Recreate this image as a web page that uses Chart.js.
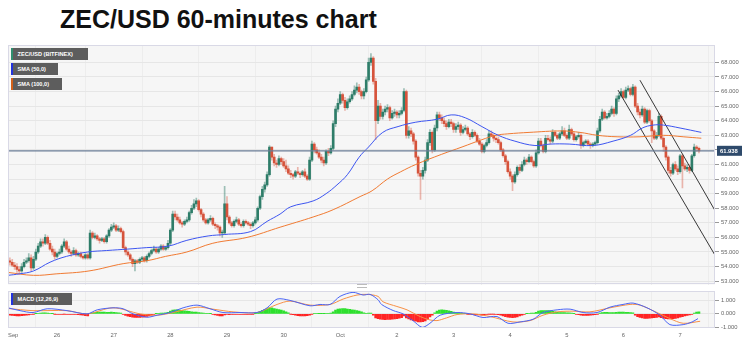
<!DOCTYPE html>
<html>
<head>
<meta charset="utf-8">
<title>ZEC/USD 60-minutes chart</title>
<script src="https://cdn.jsdelivr.net/npm/chart.js@4.4.1/dist/chart.umd.min.js"></script>
<style>
  body { margin: 0; background: #fff; width: 756px; height: 354px; position: relative; overflow: hidden; font-family: 'Liberation Sans', Arial, sans-serif; }
  #title { position: absolute; left: 60px; top: 7px; font-size: 25px; font-weight: bold; line-height: 25px; color: #111; white-space: nowrap; }
  canvas { position: absolute; left: 0; }
  #priceChart { top: 40px; }
  #macdChart { top: 286px; }
  .tag { position: absolute; left: 11px; height: 12px; line-height: 12px; box-sizing: border-box; background: #5d5d5d; color: #fff; font-size: 5.6px; font-weight: bold; padding-left: 4.5px; border-left: 2px solid; white-space: nowrap; }
  .handle { position: absolute; left: 357px; top: 284px; width: 10px; height: 2px; border-top: 1px solid #bbb; border-bottom: 1px solid #bbb; }
</style>
</head>
<body>
<div id="title">ZEC/USD 60-minutes chart</div>
<canvas id="priceChart" width="756" height="250"></canvas>
<canvas id="macdChart" width="756" height="68"></canvas>
<div class="tag" style="top:48px;width:77px;border-left-color:#2f8f6f">ZEC/USD (BITFINEX)</div>
<div class="tag" style="top:62.5px;width:47px;border-left-color:#2233dd">SMA (50,0)</div>
<div class="tag" style="top:77.5px;width:51px;border-left-color:#d2601a">SMA (100,0)</div>
<div class="tag" style="top:293px;width:61px;border-left-color:#2233dd">MACD (12,26,9)</div>
<div class="handle"></div>
<script>
// Hours are counted from Sep 26 00:00, one candle per hour
const firstHour = -20;
const xMin = -20.8;
const xMax = 278.8;

const dayTicks = [-18.6, 0, 24, 48, 72, 96, 120, 144, 168, 192, 216, 240, 264];
const dayLabels = ['Sep', '26', '27', '28', '29', '30', 'Oct', '2', '3', '4', '5', '6', '7'];
const priceTicks = [53, 54, 55, 56, 57, 58, 59, 60, 61, 62, 63, 64, 65, 66, 67, 68];
const macdTicks = [-1, 0, 1];
const lastPrice = 61.938;

const candleOpen = [
    54.4, 54.3, 54.1, 54.0, 53.8, 53.7, 54.0, 54.3, 54.4, 54.6,
    53.9, 54.5, 55.0, 55.4, 55.7, 55.6, 56.0, 55.6, 55.2, 55.0,
    54.7, 54.9, 55.0, 55.4, 55.7, 55.2, 55.0, 54.9, 55.1, 54.8,
    54.9, 54.7, 54.6, 54.8, 54.6, 56.3, 56.0, 56.1, 55.9, 55.8,
    55.9, 55.7, 56.1, 56.5, 56.7, 56.8, 56.5, 56.6, 56.4, 55.3,
    55.0, 54.8, 54.5, 54.2, 54.4, 54.3, 54.5, 54.6, 54.4, 54.7,
    54.9, 55.1, 55.2, 55.0, 55.2, 55.4, 55.2, 55.3, 55.6, 56.5,
    57.6, 57.4, 57.2, 57.0, 56.9, 57.1, 57.2, 57.7, 58.0, 58.3,
    58.5, 57.9, 57.6, 57.2, 57.0, 57.2, 57.3, 56.9, 56.8, 56.7,
    56.3, 56.3, 58.3, 57.4, 57.0, 56.8, 57.1, 57.2, 56.9, 56.8,
    57.1, 57.0, 56.9, 56.8, 57.0, 57.2, 58.0, 58.8, 59.3, 59.6,
    60.3, 62.2, 61.5, 61.1, 61.0, 61.4, 61.2, 60.9, 60.7, 60.4,
    60.3, 60.2, 60.5, 60.4, 60.3, 60.5, 60.2, 60.0, 61.3, 62.4,
    62.0, 61.8, 61.5, 61.3, 61.1, 61.9, 61.8, 62.1, 63.8, 64.8,
    65.2, 65.8, 65.4, 64.9, 65.3, 65.5, 65.8, 66.1, 66.3, 66.0,
    65.7, 66.0, 66.8, 68.0, 68.3, 66.7, 64.0, 65.0, 64.3, 64.6,
    64.8, 64.9, 64.2, 64.5, 64.6, 64.4, 64.5, 64.7, 66.0, 63.0,
    63.3, 63.1, 62.6, 61.5, 60.4, 60.2, 60.6, 61.3, 62.5, 63.2,
    62.0, 63.5, 64.4, 64.2, 64.0, 63.8, 63.6, 63.9, 63.8, 63.4,
    63.6, 63.7, 63.2, 63.4, 63.5, 63.1, 62.9, 63.2, 63.0, 62.6,
    62.4, 61.9, 62.3, 62.5, 63.1, 63.0, 62.8, 62.7, 62.5, 62.0,
    61.6, 61.2, 60.5, 60.2, 59.8, 60.3, 60.8, 60.6, 61.0, 61.3,
    61.2, 61.5, 61.2, 60.9, 61.8, 62.6, 62.3, 61.9, 62.8, 62.7,
    62.6, 63.2, 63.0, 62.8, 63.1, 63.3, 63.0, 62.8, 63.4, 63.1,
    62.7, 62.9, 63.0, 62.3, 62.5, 62.6, 62.4, 62.3, 62.4, 62.5,
    63.3, 64.1, 64.6, 64.2, 64.3, 64.5, 64.8, 64.5, 65.5, 65.7,
    66.0, 65.6, 66.1, 66.2, 65.8, 66.3, 65.0, 64.6, 64.4, 64.8,
    63.9, 64.7, 64.0, 63.3, 62.8, 63.0, 64.3, 62.8, 62.2, 61.5,
    60.6, 60.4, 61.0, 60.7, 60.5, 61.6, 60.9, 60.7, 60.8, 60.6,
    61.6, 62.2, 62.1
];
const candleHigh = [
    54.6, 54.5, 54.3, 54.2, 54.0, 54.2, 54.5, 54.6, 54.9, 54.8,
    54.7, 55.2, 55.6, 55.9, 55.9, 56.2, 56.1, 55.8, 55.4, 55.2,
    55.0, 55.2, 55.5, 55.9, 55.8, 55.4, 55.1, 55.3, 55.2, 55.0,
    55.0, 54.8, 54.9, 54.9, 56.5, 56.4, 56.3, 56.2, 56.0, 56.0,
    56.0, 56.2, 56.6, 56.9, 57.0, 56.9, 56.8, 56.7, 56.5, 55.4,
    55.1, 54.9, 54.6, 54.5, 54.5, 54.6, 54.7, 54.7, 54.8, 55.0,
    55.2, 55.4, 55.3, 55.3, 55.5, 55.5, 55.4, 55.8, 56.6, 57.8,
    57.8, 57.6, 57.4, 57.1, 57.2, 57.4, 57.8, 58.2, 58.6, 58.7,
    58.6, 58.0, 57.7, 57.3, 57.3, 57.5, 57.4, 57.0, 56.9, 56.8,
    56.5, 59.5, 58.8, 57.5, 57.1, 57.2, 57.4, 57.3, 57.0, 57.2,
    57.2, 57.1, 57.0, 57.1, 57.4, 58.1, 58.9, 59.5, 59.8, 60.5,
    62.3, 62.2, 61.7, 61.3, 61.6, 61.5, 61.4, 61.3, 60.9, 60.6,
    60.4, 60.6, 60.8, 60.5, 60.6, 60.7, 60.3, 61.5, 62.6, 62.5,
    62.2, 62.0, 61.7, 61.5, 62.0, 62.1, 62.3, 64.0, 65.0, 65.5,
    66.0, 65.9, 65.6, 65.5, 65.7, 66.0, 66.4, 66.6, 66.5, 66.1,
    66.2, 67.0, 68.3, 68.6, 68.4, 66.9, 65.4, 65.2, 64.8, 65.0,
    65.1, 65.0, 64.7, 64.8, 64.7, 64.7, 64.9, 66.2, 66.1, 63.6,
    63.5, 63.2, 62.7, 61.6, 60.6, 60.8, 61.5, 62.7, 63.4, 63.3,
    63.7, 64.6, 64.6, 64.4, 64.2, 64.0, 64.1, 64.1, 63.9, 63.8,
    63.9, 63.8, 63.6, 63.7, 63.6, 63.2, 63.4, 63.3, 63.1, 62.8,
    62.5, 62.4, 62.7, 63.3, 63.3, 63.1, 62.9, 62.9, 62.6, 62.1,
    61.7, 61.3, 60.7, 60.3, 60.5, 60.9, 61.0, 61.2, 61.5, 61.4,
    61.7, 61.6, 61.3, 62.0, 62.8, 62.8, 62.4, 63.0, 63.0, 62.9,
    63.4, 63.3, 63.1, 63.2, 63.6, 63.5, 63.1, 63.7, 63.5, 63.2,
    63.0, 63.2, 63.1, 62.6, 62.7, 62.7, 62.5, 62.5, 62.6, 63.5,
    64.3, 64.8, 64.7, 64.5, 64.7, 65.0, 64.9, 65.7, 65.9, 66.2,
    66.1, 66.3, 66.4, 66.3, 66.5, 66.4, 65.2, 64.8, 65.0, 64.9,
    64.8, 64.8, 64.1, 63.4, 63.2, 64.5, 64.4, 62.9, 62.3, 61.6,
    60.8, 61.1, 61.2, 60.9, 61.7, 61.7, 61.1, 61.0, 61.0, 61.7,
    62.4, 62.3, 62.2
];
const candleLow = [
    54.1, 54.0, 53.8, 53.6, 53.5, 53.6, 53.9, 54.2, 54.3, 53.7,
    53.8, 54.4, 54.9, 55.3, 55.4, 55.5, 55.5, 55.1, 54.8, 54.5,
    54.6, 54.8, 54.9, 55.3, 55.1, 54.9, 54.7, 54.8, 54.7, 54.7,
    54.6, 54.5, 54.5, 54.5, 54.5, 55.9, 55.9, 55.8, 55.6, 55.7,
    55.6, 55.6, 56.0, 56.4, 56.6, 56.4, 56.4, 56.3, 55.2, 54.8,
    54.7, 54.4, 54.0, 53.7, 54.2, 54.2, 54.4, 54.3, 54.3, 54.6,
    54.8, 55.0, 54.9, 54.9, 55.1, 55.1, 55.1, 55.2, 55.5, 56.4,
    57.2, 57.1, 56.9, 56.7, 56.8, 57.0, 57.1, 57.6, 57.9, 58.1,
    57.8, 57.4, 57.1, 56.9, 56.9, 57.1, 56.8, 56.6, 56.5, 56.1,
    56.0, 56.2, 57.2, 56.9, 56.7, 56.7, 57.0, 56.8, 56.7, 56.7,
    56.9, 56.8, 56.6, 56.7, 56.9, 57.1, 57.9, 58.6, 59.1, 59.5,
    60.2, 61.3, 60.9, 60.8, 60.9, 61.0, 60.8, 60.5, 60.3, 60.1,
    60.0, 60.1, 60.3, 60.1, 60.2, 60.1, 59.9, 59.9, 61.2, 61.8,
    61.7, 61.4, 61.1, 60.9, 61.0, 61.6, 61.7, 62.0, 63.6, 64.6,
    65.1, 65.2, 64.7, 64.8, 65.2, 65.4, 65.7, 65.9, 65.8, 65.5,
    65.5, 65.9, 66.7, 67.8, 66.5, 62.7, 63.8, 64.1, 64.1, 64.4,
    64.6, 64.0, 64.1, 64.3, 64.2, 64.2, 64.4, 64.6, 62.8, 62.8,
    62.9, 62.4, 61.3, 60.2, 58.6, 60.0, 60.4, 61.2, 62.3, 61.8,
    61.9, 63.3, 64.0, 63.8, 63.6, 63.4, 63.5, 63.6, 63.2, 63.2,
    63.4, 63.0, 63.1, 63.3, 63.0, 62.7, 62.8, 62.9, 62.5, 62.3,
    61.8, 61.8, 62.2, 62.4, 62.9, 62.6, 62.5, 62.4, 61.9, 61.5,
    61.0, 60.4, 60.0, 59.2, 59.7, 60.2, 60.4, 60.5, 60.9, 61.0,
    61.1, 61.1, 60.8, 60.8, 61.7, 62.2, 61.8, 61.8, 62.6, 62.4,
    62.5, 62.9, 62.7, 62.7, 63.0, 62.9, 62.7, 62.7, 63.0, 62.6,
    62.6, 62.8, 62.1, 62.2, 62.4, 62.3, 62.1, 62.2, 62.3, 62.4,
    63.2, 64.0, 64.1, 64.1, 64.2, 64.4, 64.3, 64.4, 65.3, 65.6,
    65.5, 65.5, 66.0, 65.7, 65.7, 64.9, 64.4, 64.2, 64.3, 63.8,
    63.8, 63.9, 62.5, 62.7, 62.7, 62.9, 62.7, 61.9, 61.3, 60.4,
    60.2, 60.3, 60.6, 60.3, 60.4, 59.4, 60.6, 60.5, 60.4, 60.5,
    61.5, 61.9, 61.8
];
const candleClose = [
    54.3, 54.1, 54.0, 53.8, 53.7, 54.0, 54.3, 54.4, 54.6, 53.9,
    54.5, 55.0, 55.4, 55.7, 55.6, 56.0, 55.6, 55.2, 55.0, 54.7,
    54.9, 55.0, 55.4, 55.7, 55.2, 55.0, 54.9, 55.1, 54.8, 54.9,
    54.7, 54.6, 54.8, 54.6, 56.3, 56.0, 56.1, 55.9, 55.8, 55.9,
    55.7, 56.1, 56.5, 56.7, 56.8, 56.5, 56.6, 56.4, 55.3, 55.0,
    54.8, 54.5, 54.2, 54.4, 54.3, 54.5, 54.6, 54.4, 54.7, 54.9,
    55.1, 55.2, 55.0, 55.2, 55.4, 55.2, 55.3, 55.6, 56.5, 57.6,
    57.4, 57.2, 57.0, 56.9, 57.1, 57.2, 57.7, 58.0, 58.3, 58.5,
    57.9, 57.6, 57.2, 57.0, 57.2, 57.3, 56.9, 56.8, 56.7, 56.3,
    56.3, 58.3, 57.4, 57.0, 56.8, 57.1, 57.2, 56.9, 56.8, 57.1,
    57.0, 56.9, 56.8, 57.0, 57.2, 58.0, 58.8, 59.3, 59.6, 60.3,
    62.2, 61.5, 61.1, 61.0, 61.4, 61.2, 60.9, 60.7, 60.4, 60.3,
    60.2, 60.5, 60.4, 60.3, 60.5, 60.2, 60.0, 61.3, 62.4, 62.0,
    61.8, 61.5, 61.3, 61.1, 61.9, 61.8, 62.1, 63.8, 64.8, 65.2,
    65.8, 65.4, 64.9, 65.3, 65.5, 65.8, 66.1, 66.3, 66.0, 65.7,
    66.0, 66.8, 68.0, 68.3, 66.7, 64.0, 65.0, 64.3, 64.6, 64.8,
    64.9, 64.2, 64.5, 64.6, 64.4, 64.5, 64.7, 66.0, 63.0, 63.3,
    63.1, 62.6, 61.5, 60.4, 60.2, 60.6, 61.3, 62.5, 63.2, 62.0,
    63.5, 64.4, 64.2, 64.0, 63.8, 63.6, 63.9, 63.8, 63.4, 63.6,
    63.7, 63.2, 63.4, 63.5, 63.1, 62.9, 63.2, 63.0, 62.6, 62.4,
    61.9, 62.3, 62.5, 63.1, 63.0, 62.8, 62.7, 62.5, 62.0, 61.6,
    61.2, 60.5, 60.2, 59.8, 60.3, 60.8, 60.6, 61.0, 61.3, 61.2,
    61.5, 61.2, 60.9, 61.8, 62.6, 62.3, 61.9, 62.8, 62.7, 62.6,
    63.2, 63.0, 62.8, 63.1, 63.3, 63.0, 62.8, 63.4, 63.1, 62.7,
    62.9, 63.0, 62.3, 62.5, 62.6, 62.4, 62.3, 62.4, 62.5, 63.3,
    64.1, 64.6, 64.2, 64.3, 64.5, 64.8, 64.5, 65.5, 65.7, 66.0,
    65.6, 66.1, 66.2, 65.8, 66.3, 65.0, 64.6, 64.4, 64.8, 63.9,
    64.7, 64.0, 63.3, 62.8, 63.0, 64.3, 62.8, 62.2, 61.5, 60.6,
    60.4, 61.0, 60.7, 60.5, 61.6, 60.9, 60.7, 60.8, 60.6, 61.6,
    62.2, 62.1, 61.938
];

// Moving averages, read at a few points along each line
const sma50Hours = [-20.8, -16, -10, -3, 4, 13, 21, 30, 38, 47, 55, 64, 71, 82, 89, 94.5, 99, 108.5, 114, 118.6, 123, 128, 132, 138, 144.5, 152, 161, 167, 173, 180, 187, 194, 202.5, 209, 217, 227, 235.6, 243, 248, 252.5, 257, 264, 273];
const sma50Values = [53.4, 53.5, 53.7, 54.3, 54.7, 55.0, 55.1, 55.2, 55.3, 55.4, 55.8, 56.1, 56.2, 56.4, 57.1, 57.6, 58.1, 58.5, 59.0, 59.6, 60.3, 61.5, 62.2, 63.2, 63.6, 63.9, 64.1, 64.4, 64.2, 63.6, 63.0, 62.6, 62.3, 62.4, 62.4, 62.3, 62.6, 63.0, 63.5, 63.7, 63.7, 63.5, 63.2];
const sma100Hours = [-20.8, -10, -0.4, 13.5, 28, 38, 46, 55, 66, 80.5, 94.5, 108.5, 117, 128.4, 133.5, 140, 145.6, 152, 163, 171.6, 180, 186, 191, 200, 214, 221.6, 229, 237.3, 247, 257, 265.3, 273];
const sma100Values = [53.6, 53.4, 53.5, 53.7, 54.2, 54.4, 54.7, 55.0, 55.6, 56.0, 56.7, 57.4, 57.9, 58.8, 59.2, 60.0, 60.5, 61.0, 61.7, 62.2, 62.7, 63.0, 63.1, 63.2, 63.3, 63.2, 63.0, 62.9, 62.9, 63.0, 62.9, 62.8];

// Descending channel drawn on the last days
const channelLowerHours = [237.7, 278.8];
const channelLowerValues = [66.1, 54.78];
const channelUpperHours = [247, 278.8];
const channelUpperValues = [66.78, 57.84];

// MACD (12,26,9)
const macdHours = [-20.8, -15.7, -10.2, -4.2, 4.2, 12.7, 17, 23.7, 28, 32.2, 38.1, 42.4, 47.9, 53.4, 59.3, 64.8, 70.3, 77.5, 84.7, 89, 93.2, 98.7, 107.2, 111.4, 115.7, 119.9, 125.4, 129.7, 132.6, 136, 137.5, 142.4, 146.6, 150.8, 154.7, 158, 162.3, 169.5, 175, 180.5, 186.4, 191.1, 196.2, 201.7, 205.9, 211.9, 217.4, 222.9, 228.8, 234.3, 239.8, 244.1, 250, 255.5, 259.7, 265.3, 269.1, 271.6];
const macdValues = [0.45, 0.24, 0.1, 0.38, 0.24, 0.0, 0.3, 0.45, 0.38, 0.0, -0.25, -0.1, 0.1, 0.45, 0.65, 0.38, 0.1, 0.1, 0.1, 0.45, 1.1, 1.0, 0.6, 0.7, 0.7, 1.3, 1.6, 1.4, 1.45, 1.05, 0.7, 0.25, 0.0, -0.5, -1.0, -0.7, -0.1, 0.1, 0.0, -0.27, -0.2, -0.7, -0.6, -0.4, 0.1, 0.3, 0.35, 0.1, 0.1, 0.5, 0.7, 0.8, 0.45, -0.1, -0.8, -0.8, -0.6, -0.35];
const signalHours = [-20.8, -10.2, 4.2, 12.7, 23.7, 35.2, 42.4, 49.2, 59.3, 66.1, 74.6, 84.7, 93.2, 98.7, 107.2, 115.7, 121.2, 127.1, 131.4, 136, 138.1, 144, 148.3, 153.8, 158, 161, 165, 169.5, 176.3, 183.5, 193.2, 200.4, 205.9, 211.9, 218.6, 225.8, 234.3, 242.8, 247, 254.2, 259.7, 265.3, 272.5];
const signalValues = [0.4, 0.24, 0.24, 0.0, 0.45, 0.0, -0.1, 0.1, 0.5, 0.35, 0.15, 0.1, 0.7, 0.95, 0.65, 0.7, 1.1, 1.4, 1.45, 1.3, 0.9, 0.55, 0.3, -0.2, -0.45, -0.5, -0.3, -0.05, 0.0, -0.2, -0.6, -0.5, -0.1, 0.15, 0.2, 0.15, 0.45, 0.7, 0.65, 0.1, -0.35, -0.7, -0.55];
const macdHist = [
    -0.10, -0.12, -0.14, -0.15, -0.15, -0.14, -0.12, -0.10, -0.08, -0.05,
    -0.02, 0.02, 0.04, 0.06, 0.08, 0.08, 0.06, 0.04, 0.02, -0.01,
    -0.03, -0.04, -0.03, -0.02, -0.03, -0.05, -0.05, -0.04, -0.05, -0.06,
    -0.07, -0.10, -0.13, -0.15, 0.02, 0.08, 0.11, 0.13, 0.14, 0.14,
    0.13, 0.12, 0.12, 0.13, 0.12, 0.10, 0.08, 0.05, -0.05, -0.12,
    -0.17, -0.21, -0.24, -0.26, -0.27, -0.26, -0.24, -0.22, -0.19, -0.15,
    -0.10, -0.05, 0.01, 0.03, 0.05, 0.06, 0.08, 0.12, 0.20, 0.28,
    0.30, 0.30, 0.28, 0.25, 0.22, 0.20, 0.18, 0.16, 0.14, 0.13,
    0.10, 0.07, 0.05, 0.04, 0.03, 0.01, -0.04, -0.08, -0.12, -0.15,
    -0.16, -0.08, -0.05, -0.06, -0.05, -0.04, -0.03, -0.03, -0.04, -0.03,
    -0.03, -0.03, -0.04, -0.02, 0.02, 0.10, 0.18, 0.26, 0.32, 0.38,
    0.45, 0.44, 0.40, 0.36, 0.32, 0.28, 0.22, 0.15, 0.08, -0.02,
    -0.06, -0.10, -0.13, -0.15, -0.16, -0.15, -0.14, -0.10, -0.02, 0.03,
    0.03, 0.02, 0.02, 0.01, 0.03, 0.04, 0.05, 0.15, 0.28, 0.35,
    0.38, 0.40, 0.39, 0.36, 0.33, 0.30, 0.28, 0.25, 0.20, 0.15,
    0.08, 0.04, 0.06, 0.05, -0.10, -0.30, -0.35, -0.40, -0.42, -0.43,
    -0.42, -0.41, -0.40, -0.38, -0.35, -0.32, -0.28, -0.15, -0.30, -0.38,
    -0.45, -0.50, -0.55, -0.60, -0.60, -0.58, -0.52, -0.40, -0.22, -0.10,
    0.08, 0.20, 0.28, 0.30, 0.29, 0.26, 0.22, 0.18, 0.13, 0.10,
    0.08, 0.05, 0.04, 0.03, -0.02, -0.05, -0.06, -0.07, -0.08, -0.08,
    -0.09, -0.08, -0.05, -0.02, -0.01, -0.02, -0.03, -0.06, -0.10, -0.15,
    -0.20, -0.24, -0.26, -0.28, -0.26, -0.22, -0.16, -0.10, -0.04, 0.02,
    0.04, 0.05, 0.06, 0.12, 0.20, 0.24, 0.25, 0.25, 0.24, 0.22,
    0.18, 0.15, 0.12, 0.10, 0.10, 0.09, 0.08, 0.07, 0.05, 0.02,
    -0.03, -0.06, -0.09, -0.11, -0.12, -0.11, -0.10, -0.08, -0.06, -0.02,
    0.05, 0.10, 0.12, 0.11, 0.10, 0.10, 0.09, 0.11, 0.13, 0.14,
    0.13, 0.12, 0.12, 0.10, 0.08, -0.10, -0.20, -0.27, -0.30, -0.33,
    -0.33, -0.32, -0.30, -0.28, -0.27, -0.22, -0.28, -0.32, -0.35, -0.37,
    -0.37, -0.35, -0.33, -0.30, -0.24, -0.20, -0.16, -0.12, -0.08, -0.04,
    0.06, 0.14, 0.15
];

// Colours
const upColor = '#2e7d69';
const downColor = '#d6533b';
const upWick = 'rgba(46, 125, 105, 0.45)';
const downWick = 'rgba(214, 83, 59, 0.4)';

Chart.defaults.font.family = "'Liberation Sans', Arial, sans-serif";
Chart.defaults.font.size = 5.8;
Chart.defaults.color = '#666';

const candleHours = candleClose.map((c, k) => firstHour + k);

function points(xs, ys) {
    return xs.map((x, k) => ({ x: x, y: ys[k] }));
}

function dayGridColor(ctx) {
    return ctx.tick && ctx.tick.value < 0 ? 'rgba(0,0,0,0)' : '#ededed';
}

// Grey panel behind the plot and a thin frame around it
const panelFrame = {
    id: 'panelFrame',
    beforeDraw(chart) {
        const a = chart.chartArea;
        const ctx = chart.ctx;
        ctx.save();
        ctx.fillStyle = '#f6f6f6';
        ctx.fillRect(a.left, a.top, a.right - a.left, a.bottom - a.top);
        ctx.restore();
    },
    afterDraw(chart) {
        const a = chart.chartArea;
        const ctx = chart.ctx;
        ctx.save();
        ctx.strokeStyle = '#d9d9e6';
        ctx.lineWidth = 1;
        ctx.strokeRect(Math.round(a.left) + 0.5, Math.round(a.top) + 0.5, Math.round(a.right - a.left) - 1, Math.round(a.bottom - a.top) - 1);
        ctx.restore();
    }
};

// Box with the last price on the right axis
const lastPriceLabel = {
    id: 'lastPriceLabel',
    afterDraw(chart) {
        const y = chart.scales.y.getPixelForValue(lastPrice);
        const x = chart.chartArea.right + 2;
        const ctx = chart.ctx;
        ctx.save();
        ctx.fillStyle = '#2e4a6b';
        ctx.fillRect(x, y - 5, 25, 10);
        ctx.fillStyle = '#fff';
        ctx.font = "bold 5.8px 'Liberation Sans', Arial, sans-serif";
        ctx.textBaseline = 'middle';
        ctx.fillText(lastPrice.toFixed(3), x + 3, y + 0.5);
        ctx.restore();
    }
};

const priceChart = new Chart(document.getElementById('priceChart'), {
    type: 'bar',
    data: {
        datasets: [
            {
                type: 'line',
                data: points([xMin, xMax], [lastPrice, lastPrice]),
                borderColor: '#6a7d96',
                borderWidth: 1.3,
                pointRadius: 0,
                order: 0
            },
            {
                type: 'line',
                data: points(sma50Hours, sma50Values),
                borderColor: '#3d55f0',
                borderWidth: 1,
                pointRadius: 0,
                tension: 0.4,
                order: 0
            },
            {
                type: 'line',
                data: points(sma100Hours, sma100Values),
                borderColor: '#f07a32',
                borderWidth: 1,
                pointRadius: 0,
                tension: 0.4,
                order: 0
            },
            {
                type: 'line',
                data: points(channelLowerHours, channelLowerValues),
                borderColor: '#222',
                borderWidth: 0.9,
                pointRadius: 0,
                order: 0
            },
            {
                type: 'line',
                data: points(channelUpperHours, channelUpperValues),
                borderColor: '#222',
                borderWidth: 0.9,
                pointRadius: 0,
                order: 0
            },
            {
                // candle bodies
                data: candleHours.map((h, k) => ({ x: h, y: [candleOpen[k], candleClose[k]] })),
                backgroundColor: candleClose.map((c, k) => c >= candleOpen[k] ? upColor : downColor),
                barThickness: 2,
                minBarLength: 1,
                grouped: false,
                order: 1
            },
            {
                // wicks
                data: candleHours.map((h, k) => ({ x: h, y: [candleLow[k], candleHigh[k]] })),
                backgroundColor: candleClose.map((c, k) => c >= candleOpen[k] ? upWick : downWick),
                barThickness: 1,
                grouped: false,
                order: 2
            }
        ]
    },
    options: {
        responsive: false,
        animation: false,
        events: [],
        layout: { padding: { left: 8, right: 0, top: 5, bottom: 4 } },
        plugins: { legend: { display: false }, tooltip: { enabled: false } },
        scales: {
            x: {
                type: 'linear',
                min: xMin,
                max: xMax,
                offset: false,
                afterBuildTicks: axis => { axis.ticks = dayTicks.map(v => ({ value: v })); },
                afterFit: axis => { axis.height = 0; },
                ticks: { display: false },
                grid: { color: dayGridColor, drawTicks: false },
                border: { display: false }
            },
            y: {
                position: 'right',
                min: 52.77,
                max: 69.16,
                afterBuildTicks: axis => { axis.ticks = priceTicks.map(v => ({ value: v })); },
                afterFit: axis => { axis.width = 41; },
                ticks: { autoSkip: false, padding: 2, callback: v => v.toFixed(3) },
                grid: { color: '#e6e6e6', tickLength: 4, tickColor: '#999' },
                border: { display: false }
            }
        }
    },
    plugins: [panelFrame, lastPriceLabel]
});

const macdChart = new Chart(document.getElementById('macdChart'), {
    type: 'bar',
    data: {
        datasets: [
            {
                type: 'line',
                data: points(macdHours, macdValues),
                borderColor: '#4a64f5',
                borderWidth: 1,
                pointRadius: 0,
                tension: 0.3,
                order: 0
            },
            {
                type: 'line',
                data: points(signalHours, signalValues),
                borderColor: '#f79046',
                borderWidth: 1,
                pointRadius: 0,
                tension: 0.3,
                order: 0
            },
            {
                data: candleHours.map((h, k) => ({ x: h, y: macdHist[k] })),
                backgroundColor: macdHist.map(v => v >= 0 ? '#2ee02e' : '#ff2424'),
                barThickness: 2,
                grouped: false,
                order: 1
            }
        ]
    },
    options: {
        responsive: false,
        animation: false,
        events: [],
        layout: { padding: { left: 8, right: 0, top: 4, bottom: 0 } },
        plugins: { legend: { display: false }, tooltip: { enabled: false } },
        scales: {
            x: {
                type: 'linear',
                min: xMin,
                max: xMax,
                offset: false,
                afterBuildTicks: axis => { axis.ticks = dayTicks.map(v => ({ value: v })); },
                afterFit: axis => { axis.height = 26; },
                ticks: { autoSkip: false, maxRotation: 0, padding: 4, callback: (v, i) => dayLabels[i] },
                grid: { color: dayGridColor, drawTicks: false },
                border: { display: false }
            },
            y: {
                position: 'right',
                min: -1.05,
                max: 1.664,
                afterBuildTicks: axis => { axis.ticks = macdTicks.map(v => ({ value: v })); },
                afterFit: axis => { axis.width = 41; },
                ticks: { autoSkip: false, padding: 2, callback: v => v.toFixed(3) },
                grid: { color: '#e6e6e6', tickLength: 4, tickColor: '#999' },
                border: { display: false }
            }
        }
    },
    plugins: [panelFrame]
});
</script>
</body>
</html>
